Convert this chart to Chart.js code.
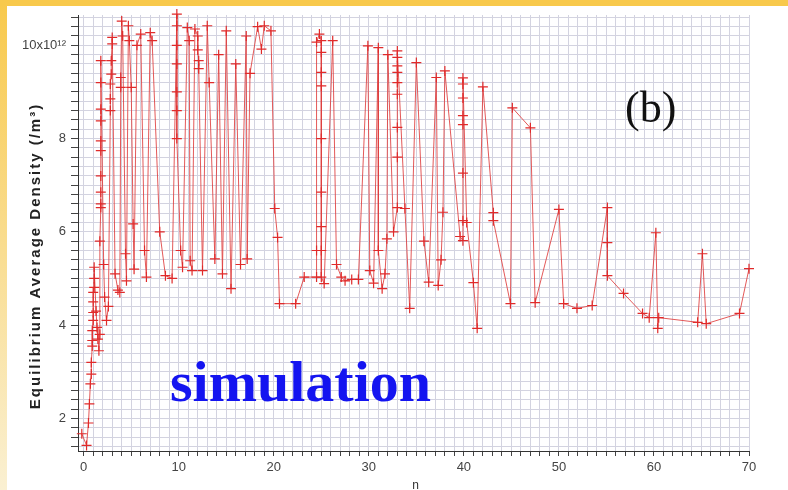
<!DOCTYPE html>
<html>
<head>
<meta charset="utf-8">
<script src="https://cdn.jsdelivr.net/npm/chart.js@4/dist/chart.umd.min.js"></script>
<style>
  html, body { margin: 0; padding: 0; background: #fff; }
  #wrap { width: 788px; height: 490px; }
</style>
</head>
<body>
<div id="wrap"><canvas id="chart" width="788" height="490"></canvas></div>
<script>
// n (mode number) and equilibrium average density, in units of 10^12 /m^3
const nValues = [
  -0.2, 0.3, 0.5, 0.6, 0.7, 0.8, 0.8, 0.9, 0.9, 0.9,
  1.0, 1.0, 1.0, 1.0, 1.1, 1.1, 1.1, 1.3, 1.4, 1.5,
  1.6, 1.7, 1.7, 1.8, 1.8, 1.8, 1.8, 1.8, 1.8, 1.8,
  1.8, 1.8, 1.8, 2.1, 2.2, 2.4, 2.6, 2.8, 2.8, 2.8,
  2.9, 2.9, 3.0, 3.0, 3.3, 3.6, 3.8, 3.9, 3.9, 4.0,
  4.1, 4.4, 4.5, 4.7, 4.8, 5.0, 5.2, 5.3, 5.6, 6.0,
  6.4, 6.6, 7.0, 7.2, 8.0, 8.6, 9.3, 9.8, 9.8, 9.8,
  9.8, 9.8, 9.8, 9.8, 10.2, 10.4, 10.9, 11.1, 11.2, 11.4,
  11.7, 12.0, 12.0, 12.1, 12.1, 12.5, 13.0, 13.2, 13.8, 14.2,
  14.6, 15.0, 15.5, 16.0, 16.5, 17.1, 17.2, 17.5, 18.3, 18.7,
  19.0, 19.7, 20.1, 20.4, 20.6, 22.3, 23.2, 24.5, 24.5, 24.5,
  24.8, 25.0, 25.0, 25.0, 25.0, 25.0, 25.0, 25.0, 25.0, 25.0,
  25.3, 26.2, 26.6, 27.1, 27.5, 28.2, 28.9, 29.9, 30.1, 30.5,
  31.0, 31.0, 31.4, 31.7, 31.9, 32.0, 32.6, 33.0, 33.0, 33.0,
  33.0, 33.0, 33.0, 33.0, 33.0, 33.0, 33.8, 34.3, 35.0, 35.8,
  36.3, 37.1, 37.3, 37.6, 37.8, 38.0, 39.6, 39.9, 39.9, 39.9,
  39.9, 39.9, 39.9, 39.9, 39.9, 40.3, 41.0, 41.4, 42.0, 43.1,
  43.1, 44.9, 45.1, 47.0, 47.5, 50.0, 50.5, 51.9, 53.5, 55.1,
  55.1, 55.1, 56.8, 58.8, 59.5, 60.2, 60.4, 60.5, 64.6, 65.1,
  65.5, 69.0, 70.0
];
const densityValues = [
  1.67, 1.42, 1.9, 2.31, 2.74, 2.95, 3.2, 3.55, 3.67, 3.88,
  4.1, 4.27, 4.5, 4.7, 4.81, 5.0, 5.24, 4.3, 3.95, 3.7,
  3.45, 3.8, 5.8, 6.52, 6.6, 6.85, 7.2, 7.74, 7.95, 8.38,
  8.63, 9.2, 9.67, 5.3, 4.6, 4.1, 4.4, 8.6, 8.85, 9.17,
  9.38, 9.67, 10.03, 10.17, 5.1, 4.75, 4.7, 9.1, 9.31, 10.52,
  10.2, 5.53, 4.95, 10.42, 10.1, 9.1, 6.17, 5.2, 10.0, 10.24,
  5.6, 5.03, 10.27, 10.1, 6.0, 5.06, 5.0, 10.67, 10.42, 10.0,
  9.6, 9.0, 8.6, 8.0, 5.6, 5.24, 10.38, 10.1, 5.38, 5.17,
  10.35, 10.2, 9.9, 9.67, 9.5, 5.17, 10.42, 9.2, 5.42, 9.8,
  5.1, 10.31, 4.78, 9.6, 5.3, 10.2, 5.42, 9.4, 10.4, 9.92,
  10.42, 10.31, 6.5, 5.88, 4.46, 4.46, 5.03, 5.03, 5.6, 10.07,
  10.24, 10.1, 9.85, 9.42, 9.13, 8.0, 6.85, 6.11, 5.6, 5.03,
  4.89, 10.1, 5.3, 5.03, 4.95, 4.98, 4.98, 9.99, 5.17, 4.9,
  9.95, 5.6, 4.78, 5.1, 5.85, 9.8, 6.0, 6.52, 7.6, 8.24,
  8.95, 9.2, 9.42, 9.56, 9.74, 9.88, 6.5, 4.36, 9.63, 5.8,
  4.92, 9.31, 4.85, 5.4, 6.42, 9.45, 5.9, 5.81, 6.24, 7.26,
  8.3, 8.49, 8.87, 9.17, 9.3, 6.2, 4.91, 3.93, 9.11, 6.41,
  6.24, 4.46, 8.66, 8.23, 4.48, 6.48, 4.46, 4.36, 4.42, 6.52,
  5.77, 5.06, 4.68, 4.25, 4.16, 5.98, 3.93, 4.16, 4.06, 5.53,
  4.03, 4.25, 5.21
];

// tick labels
const xLabelValues = [0, 10, 20, 30, 40, 50, 60, 70];
const yLabelValues = [2, 4, 6, 8, 10];
const yLabelTexts = ['2', '4', '6', '8', '10x10\u00b9\u00b2'];

const points = nValues.map((n, i) => ({ x: n, y: densityValues[i] }));

const near = (a, b) => Math.abs(a - b) < 1e-6;

// slide background + free text (titles, panel label, "simulation")
const decorPlugin = {
  id: 'decor',
  beforeDraw(chart) {
    const { ctx, width, height } = chart;
    ctx.save();
    ctx.fillStyle = '#ffffff';
    ctx.fillRect(0, 0, width, height);
    const g = ctx.createLinearGradient(0, 0, 0, height);
    g.addColorStop(0, '#f8c94c');
    g.addColorStop(1, '#faf0d2');
    ctx.fillStyle = g;
    ctx.fillRect(0, 0, 7, height);
    ctx.fillStyle = '#f8c94c';
    ctx.fillRect(0, 0, width, 6);
    ctx.restore();
  },
  afterDraw(chart) {
    const { ctx, chartArea } = chart;
    ctx.save();
    // y axis title
    ctx.translate(36, 256);
    ctx.rotate(-Math.PI / 2);
    ctx.fillStyle = '#222';
    ctx.font = 'bold 15px "Liberation Sans", Arial, sans-serif';
    ctx.letterSpacing = '2px';
    ctx.textAlign = 'center';
    ctx.textBaseline = 'middle';
    ctx.fillText('Equilibrium Average Density (/m\u00b3)', 0, 0);
    ctx.restore();

    ctx.save();
    ctx.fillStyle = '#333';
    ctx.font = '12px "Liberation Sans", Arial, sans-serif';
    ctx.textAlign = 'center';
    ctx.textBaseline = 'alphabetic';
    ctx.fillText('n', (chartArea.left + chartArea.right) / 2 + 2, 489);

    ctx.fillStyle = '#111';
    ctx.font = '44px "Liberation Serif", "Times New Roman", serif';
    ctx.textAlign = 'left';
    ctx.fillText('(b)', 625, 122);

    ctx.fillStyle = '#1414f0';
    ctx.font = 'bold 58px "Liberation Serif", "Times New Roman", serif';
    ctx.fillText('simulation', 170, 401);
    ctx.restore();
  }
};

new Chart(document.getElementById('chart'), {
  type: 'scatter',
  data: {
    datasets: [{
      label: 'simulation',
      data: points,
      showLine: true,
      tension: 0,
      clip: false,
      borderColor: 'rgba(222,60,60,0.85)',
      borderWidth: 1,
      pointStyle: 'cross',
      pointRadius: 5,
      pointBorderColor: '#e02a2a',
      pointBorderWidth: 1.2,
      pointBackgroundColor: '#e02a2a'
    }]
  },
  options: {
    responsive: false,
    animation: false,
    devicePixelRatio: 1,
    layout: { padding: { left: 0, top: 15, right: 39, bottom: 0 } },
    plugins: {
      legend: { display: false },
      tooltip: { enabled: false }
    },
    scales: {
      x: {
        type: 'linear',
        min: -0.6,
        max: 70,
        afterFit(scale) { scale.height = 39; },
        border: { display: true, color: '#333', width: 1 },
        grid: { color: '#d3d3e0', lineWidth: 1, tickColor: '#444', tickLength: 5 },
        ticks: {
          stepSize: 1,
          includeBounds: false,
          autoSkip: false,
          maxRotation: 0,
          padding: 4,
          color: '#444',
          font: { family: '"Liberation Sans", Arial, sans-serif', size: 13 },
          callback: v => (xLabelValues.some(t => near(t, v)) ? String(Math.round(v)) : '')
        }
      },
      y: {
        type: 'linear',
        min: 1.3,
        max: 10.65,
        afterFit(scale) { scale.width = 78; },
        border: { display: true, color: '#333', width: 1 },
        grid: { color: '#d3d3e0', lineWidth: 1, tickColor: '#444', tickLength: 7 },
        ticks: {
          stepSize: 0.2,
          includeBounds: false,
          maxTicksLimit: 1000,
          autoSkip: false,
          padding: 5,
          color: '#444',
          font: { family: '"Liberation Sans", Arial, sans-serif', size: 13 },
          callback: v => {
            const i = yLabelValues.findIndex(t => near(t, v));
            return i >= 0 ? yLabelTexts[i] : '';
          }
        }
      }
    }
  },
  plugins: [decorPlugin]
});
</script>
</body>
</html>
